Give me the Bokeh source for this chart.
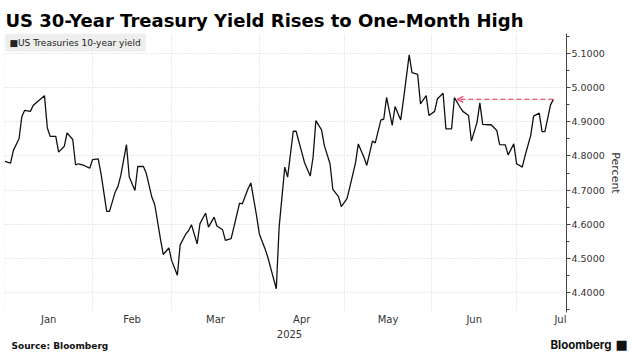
import pandas as pd
from bokeh.plotting import figure
from bokeh.layouts import column
from bokeh.models import (Range1d, FixedTicker, DatetimeTickFormatter, PrintfTickFormatter,
                          Label, Arrow, OpenHead)
from bokeh.embed import file_html
from bokeh.resources import INLINE

# ---- data ----
dates = [
    "2025-01-01", "2025-01-03", "2025-01-04", "2025-01-06", "2025-01-07", "2025-01-08",
    "2025-01-10", "2025-01-11", "2025-01-13", "2025-01-15", "2025-01-16", "2025-01-17",
    "2025-01-19", "2025-01-20", "2025-01-22", "2025-01-23", "2025-01-25", "2025-01-26",
    "2025-01-27", "2025-01-29", "2025-01-31", "2025-02-01", "2025-02-03", "2025-02-04",
    "2025-02-06", "2025-02-07", "2025-02-09", "2025-02-10", "2025-02-11", "2025-02-13",
    "2025-02-14", "2025-02-16", "2025-02-17", "2025-02-19", "2025-02-20", "2025-02-22",
    "2025-02-23", "2025-02-25", "2025-02-26", "2025-02-28", "2025-03-01", "2025-03-03",
    "2025-03-04", "2025-03-06", "2025-03-07", "2025-03-08", "2025-03-10", "2025-03-11",
    "2025-03-13", "2025-03-14", "2025-03-16", "2025-03-17", "2025-03-19", "2025-03-20",
    "2025-03-22", "2025-03-23", "2025-03-25", "2025-03-26", "2025-03-28", "2025-03-29",
    "2025-03-31", "2025-04-01", "2025-04-03", "2025-04-04", "2025-04-05", "2025-04-07",
    "2025-04-08", "2025-04-10", "2025-04-11", "2025-04-13", "2025-04-14", "2025-04-16",
    "2025-04-17", "2025-04-19", "2025-04-20", "2025-04-21", "2025-04-23", "2025-04-24",
    "2025-04-26", "2025-04-27", "2025-04-29", "2025-04-30", "2025-05-02", "2025-05-03",
    "2025-05-05", "2025-05-06", "2025-05-08", "2025-05-09", "2025-05-11", "2025-05-12",
    "2025-05-14", "2025-05-15", "2025-05-16", "2025-05-18", "2025-05-19", "2025-05-21",
    "2025-05-22", "2025-05-24", "2025-05-25", "2025-05-27", "2025-05-28", "2025-05-30",
    "2025-05-31", "2025-06-02", "2025-06-03", "2025-06-05", "2025-06-06", "2025-06-08",
    "2025-06-09", "2025-06-11", "2025-06-12", "2025-06-14", "2025-06-15", "2025-06-17",
    "2025-06-18", "2025-06-19", "2025-06-21", "2025-06-22", "2025-06-24", "2025-06-25",
    "2025-06-27", "2025-06-28", "2025-06-30", "2025-07-01", "2025-07-03", "2025-07-04",
    "2025-07-06", "2025-07-07", "2025-07-09", "2025-07-10", "2025-07-11", "2025-07-13",
    "2025-07-14",
]
yields = [
    4.784, 4.779, 4.816, 4.850, 4.915, 4.933,
    4.930, 4.947, 4.962, 4.976, 4.882, 4.857,
    4.857, 4.811, 4.828, 4.867, 4.848, 4.774,
    4.777, 4.772, 4.764, 4.789, 4.791, 4.748,
    4.638, 4.638, 4.694, 4.711, 4.743, 4.833,
    4.738, 4.699, 4.769, 4.769, 4.749, 4.679,
    4.658, 4.558, 4.512, 4.531, 4.494, 4.451,
    4.540, 4.572, 4.582, 4.599, 4.543, 4.602,
    4.633, 4.592, 4.621, 4.595, 4.584, 4.553,
    4.558, 4.592, 4.662, 4.660, 4.704, 4.721,
    4.626, 4.572, 4.529, 4.504, 4.473, 4.412,
    4.592, 4.767, 4.738, 4.872, 4.872, 4.811,
    4.780, 4.741, 4.796, 4.903, 4.876, 4.830,
    4.777, 4.702, 4.681, 4.652, 4.675, 4.709,
    4.779, 4.835, 4.796, 4.772, 4.843, 4.838,
    4.905, 4.907, 4.971, 4.889, 4.944, 4.905,
    4.965, 5.095, 5.043, 5.038, 4.952, 4.976,
    4.918, 4.930, 4.967, 4.983, 4.879, 4.879,
    4.970, 4.942, 4.930, 4.918, 4.843, 4.898,
    4.955, 4.892, 4.891, 4.891, 4.874, 4.833,
    4.832, 4.803, 4.835, 4.777, 4.767, 4.801,
    4.860, 4.916, 4.925, 4.871, 4.871, 4.949,
    4.965,
]
month_labels = ["Jan", "Feb", "Mar", "Apr", "May", "Jun", "Jul"]
month_starts = ["2025-01-01", "2025-02-01", "2025-03-01", "2025-04-01",
                "2025-05-01", "2025-06-01", "2025-07-01"]
y_ticks = [4.4, 4.5, 4.6, 4.7, 4.8, 4.9, 5.0, 5.1]
arrow_back_to = "2025-06-10"   # date the red arrow points back to
series_name = "US Treasuries 10-year yield"
title_text = "US 30-Year Treasury Yield Rises to One-Month High"
source_text = "Source: Bloomberg"
brand_text = "Bloomberg"
year_text = "2025"

x = pd.to_datetime(dates)

def ms(d):
    return pd.Timestamp(d).value // 10**6

W, H = 632, 364
FW, FH = 562, 279
TOP, BOT = 33, 14
p = figure(output_backend="svg", toolbar_location=None,
           frame_width=FW, frame_height=FH,
           min_border_left=4, min_border_right=W - 4 - FW,
           min_border_top=TOP, min_border_bottom=BOT,
           x_axis_type="datetime", y_axis_location="right",
           x_range=Range1d(pd.Timestamp("2024-12-31 20:40"), pd.Timestamp("2025-07-18 15:30")),
           y_range=Range1d(4.3425, 5.1575))
p.outline_line_color = None
p.background_fill_color = "white"
p.border_fill_color = "white"

# title
p.title.text = title_text
p.title.text_font = "DejaVu Sans"
p.title.text_font_style = "bold"
p.title.text_font_size = "18px"
p.title.text_color = "#000000"
p.title.align = "left"
p.title.offset = 1
p.title.standoff = 5

# line
p.line(x, yields, line_color="#111111", line_width=1.3)

# red dashed arrow from latest value back to the earlier high
p.add_layout(Arrow(x_start=x[-1], y_start=yields[-1],
                   x_end=pd.Timestamp(arrow_back_to), y_end=yields[-1],
                   line_color="#f2506a", line_width=1.3, line_dash="5 3",
                   start=None,
                   end=OpenHead(size=6, line_color="#f2506a", line_width=1.3)))

# grids
mid_ticks = []
for s in month_starts:
    t0 = pd.Timestamp(s)
    t1 = t0 + pd.offsets.MonthBegin(1)
    mid_ticks.append(ms(t0 + (t1 - t0) / 2))
p.xgrid.ticker = FixedTicker(ticks=[ms(s) for s in month_starts])
p.xgrid.grid_line_color = "#d4d4d4"
p.xgrid.grid_line_dash = "1 2"
p.ygrid.grid_line_color = "#d4d4d4"
p.ygrid.grid_line_dash = "1 2"

# x axis
xa = p.xaxis[0]
xa.ticker = FixedTicker(ticks=mid_ticks)
fmt = "%b"
xa.formatter = DatetimeTickFormatter(days=fmt, months=fmt, years=fmt, hours=fmt,
                                     minutes=fmt, seconds=fmt, milliseconds=fmt,
                                     minsec=fmt, hourmin=fmt)
xa.axis_line_color = None
xa.major_tick_line_color = None
xa.minor_tick_line_color = None
xa.major_tick_in = 0
xa.major_tick_out = 0
xa.minor_tick_in = 0
xa.minor_tick_out = 0
xa.major_label_standoff = 1
xa.major_label_text_font = "DejaVu Sans"
xa.major_label_text_font_size = "10px"
xa.major_label_text_color = "#333333"

# y axis (right)
ya = p.yaxis[0]
ya.ticker = FixedTicker(ticks=y_ticks,
                        minor_ticks=[round(v + 0.05, 2) for v in [4.3] + y_ticks])
ya.formatter = PrintfTickFormatter(format="%.4f")
ya.axis_line_color = "#444444"
ya.major_tick_line_color = "#444444"
ya.minor_tick_line_color = "#444444"
ya.major_tick_in = 0
ya.major_tick_out = 4
ya.minor_tick_in = 0
ya.minor_tick_out = 3
ya.major_label_standoff = 1
ya.major_label_text_font = "DejaVu Sans"
ya.major_label_text_font_size = "9.5px"
ya.major_label_text_color = "#333333"
ya.axis_label = "Percent"
ya.axis_label_standoff = 1
ya.axis_label_text_font = "DejaVu Sans"
ya.axis_label_text_font_size = "11px"
ya.axis_label_text_font_style = "normal"
ya.axis_label_text_color = "#333333"

# legend box
p.add_layout(Label(x=1, y=FH, x_units="screen", y_units="screen",
                   text="\u25a0" + series_name, text_font="DejaVu Sans",
                   text_font_size="9px", text_color="#222222",
                   text_align="left", text_baseline="top",
                   background_fill_color="#eeeeee",
                   padding=dict(left=4, right=5, top=4, bottom=4)))

# footer strip (year label, source, brand)
FOOT_H = H - (TOP + FH + BOT)
f = figure(output_backend="svg", toolbar_location=None,
           frame_width=W, frame_height=FOOT_H,
           min_border_left=0, min_border_right=0, min_border_top=0, min_border_bottom=0,
           x_range=Range1d(0, 1), y_range=Range1d(0, 1))
f.axis.visible = False
f.grid.visible = False
f.outline_line_color = None
f.add_layout(Label(x=4 + FW / 2, y=32, x_units="screen", y_units="screen",
                   text=year_text, text_font="DejaVu Sans",
                   text_font_size="10px", text_color="#333333",
                   text_align="center", text_baseline="middle"))
f.add_layout(Label(x=7, y=20, x_units="screen", y_units="screen",
                   text=source_text, text_font="DejaVu Sans", text_font_style="bold",
                   text_font_size="9px", text_color="#111111",
                   text_align="left", text_baseline="middle"))
f.add_layout(Label(x=607, y=21, x_units="screen", y_units="screen",
                   text=brand_text, text_font="Inter", text_font_style="bold",
                   text_font_size="11.5px", text_color="#111111",
                   text_align="right", text_baseline="middle"))
f.add_layout(Label(x=611, y=21, x_units="screen", y_units="screen",
                   text="\u25a0", text_font="DejaVu Sans",
                   text_font_size="13px", text_color="#111111",
                   text_align="left", text_baseline="middle"))

layout = column(p, f, spacing=0)
open("out.html", "w").write(file_html(layout, INLINE))
